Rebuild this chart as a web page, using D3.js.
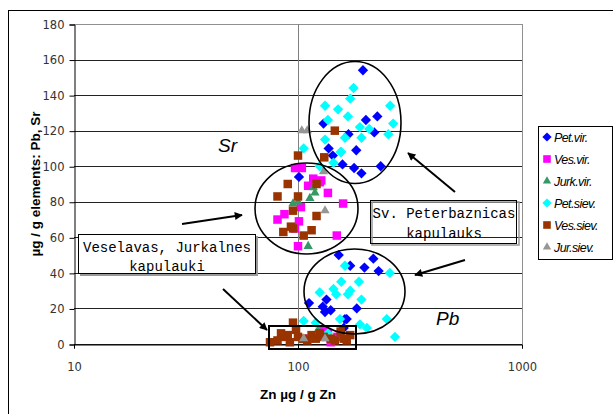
<!DOCTYPE html>
<html>
<head>
<meta charset="utf-8">
<script src="https://cdn.jsdelivr.net/npm/d3@7"></script>
<style>
body { margin: 0; background: #fff; }
svg { display: block; }
.tick text { font-family: "DejaVu Sans", Verdana, sans-serif; font-size: 11.5px; fill: #333; }
</style>
</head>
<body>
<svg id="chart" width="613" height="414"></svg>
<script>
// series data: [Zn, element]
var petVir = [[195,154],[226,128],[201,126],[219,119],[168,118],[130,124],[182,109],[137,110],[143,106],
    [158,101],[178,99],[192,96],[234,100],[101,94],
    [152,50],[171,44],[198,43],[217,48],[229,41],[112,23],[134,25],[140,19],[132,18],[183,20],
    [165,14],[162,14],[129,21],[160,9]];
var vesVir = [[97,99],[104,99],[117,93],[125,91],[127,92],[111,89],[136,85],[159,79],[103,77],[87,73],
    [81,70],[101,69],[97,65],[149,61],[100,55],
    [140,1],[136,6],[130,8],[112,3],[150,4]];
var jurkVir = [[119,85],[113,82],[117,88],[95,79],[100,80],[111,55],[123,8],[105,2]];
var petSiev = [[177,144],[171,138],[132,134],[151,132],[167,128],[258,134],[266,124],[136,126],[189,122],
    [208,121],[253,118],[192,116],[162,116],[132,115],[155,108],[106,110],[156,108],[144,102],[125,100],
    [162,44],[257,40],[156,35],[187,35],[171,30],[144,31],[125,29],[167,28],[148,28],[192,25],
    [154,14],[189,11],[203,9],[249,14],[271,4],[106,13],[120,12],[136,6]];
var vesSiev = [[146,120],[100,106],[131,105],[90,90],[121,90],[81,83],[100,83],[95,75],[121,72],[95,65],
    [86,63],[115,64],[106,61],[93,66],
    [95,12],[81,2],[87,4],[98,8],[115,5],[146,2],[171,5],[92,1],[105,3],[130,4],[160,3],[75,1],
    [84,6],[90,5],[100,4],[110,2],[120,3],[125,6],[155,7],[165,2],[140,3]];
var jurSiev = [[104,120],[110,120],[130,97],[132,75],[106,3],[132,3]];

var seriesNames = ["Pet.vir.","Ves.vir.","Jurk.vir.","Pet.siev.","Ves.siev.","Jur.siev."];
var seriesColors = ["#0000ff","#ff00ff","#339966","#00ffff","#993300","#969696"];
var seriesShapes = ["diamond","square","triangle","diamond","square","triangle"];
var seriesData = [petVir, vesVir, jurkVir, petSiev, vesSiev, jurSiev];

var xTicks = [10, 100, 1000];
var yTicks = [0,20,40,60,80,100,120,140,160,180];

var svg = d3.select("#chart");
var plotL = 74, plotR = 522, plotT = 24, plotB = 344;

var x = d3.scaleLog().domain([10,1000]).range([plotL,plotR]);
var y = d3.scaleLinear().domain([0,180]).range([plotB,plotT]);

// outer frame
svg.append("rect").attr("x",8.5).attr("y",10.5).attr("width",700).attr("height",500)
    .attr("fill","none").attr("stroke","#000");

// grid
svg.selectAll(".hgrid").data(yTicks).enter().append("line")
    .attr("x1",plotL).attr("x2",plotR)
    .attr("y1",function(d){return Math.round(y(d))+0.5})
    .attr("y2",function(d){return Math.round(y(d))+0.5})
    .attr("stroke",function(d){return d==180 ? "#909090" : "#222"});
svg.append("line").attr("x1",Math.round(x(100))+0.5).attr("x2",Math.round(x(100))+0.5)
    .attr("y1",plotT).attr("y2",plotB).attr("stroke","#808080");
svg.append("line").attr("x1",plotR+0.5).attr("x2",plotR+0.5)
    .attr("y1",plotT).attr("y2",plotB).attr("stroke","#909090");

// axes
var yAxis = svg.append("g").attr("transform","translate("+(plotL+0.5)+",0.5)")
    .call(d3.axisLeft(y).tickValues(yTicks).tickSize(5).tickPadding(5));
var xAxis = svg.append("g").attr("transform","translate(0,"+(plotB+0.5)+")")
    .call(d3.axisBottom(x).tickValues(xTicks).tickFormat(d3.format("d")).tickSize(4).tickPadding(14));
svg.selectAll(".domain").attr("stroke","#000");
svg.selectAll(".tick line").attr("stroke","#000");

svg.append("text").attr("x",298).attr("y",399).attr("text-anchor","middle")
    .style("font-family","Liberation Sans, Arial").style("font-size","13.5px").style("font-weight","bold")
    .text("Zn µg / g Zn");
svg.append("text").attr("transform","translate(40,184) rotate(-90)").attr("text-anchor","middle")
    .style("font-family","Liberation Sans, Arial").style("font-size","13.5px").style("font-weight","bold")
    .text("µg / g elements: Pb, Sr");

// markers
var symbolFor = function(shape, k){
    k = k || 1;
    if (shape=="diamond") return d3.symbol().type(d3.symbolDiamond2).size(68*k)();
    if (shape=="square") return d3.symbol().type(d3.symbolSquare2).size(92*k)();
    return d3.symbol().type(d3.symbolTriangle2).size(62*k)();
}

seriesData.forEach(function(data,i){
    svg.append("g").selectAll("path").data(data).enter().append("path")
        .attr("d",symbolFor(seriesShapes[i]))
        .attr("transform",function(d){return "translate("+x(d[0])+","+y(d[1])+")"})
        .attr("fill",seriesColors[i]);
});

// annotations
var ann = svg.append("g").attr("fill","none").attr("stroke","#000");
ann.append("ellipse").attr("cx",355).attr("cy",122.5).attr("rx",46).attr("ry",61).attr("stroke-width",1.6);
ann.append("ellipse").attr("cx",306.5).attr("cy",208.5).attr("rx",51.5).attr("ry",45.5).attr("stroke-width",1.6);
ann.append("ellipse").attr("cx",354.5).attr("cy",291.5).attr("rx",50.5).attr("ry",42.5).attr("stroke-width",1.6);
ann.append("rect").attr("x",269).attr("y",326).attr("width",87).attr("height",23).attr("stroke-width",2);

svg.append("defs").append("marker").attr("id","arr").attr("viewBox","0 0 10 10")
    .attr("refX",9).attr("refY",5).attr("markerWidth",10).attr("markerHeight",8)
    .attr("markerUnits","userSpaceOnUse").attr("orient","auto")
    .append("path").attr("d","M0,0L10,5L0,10Z").attr("fill","#000");
var arrows = [[455,192,408,153],[182,224,242,215],[465,260,415,275],[223,289,267,330]];
svg.selectAll(".arrow").data(arrows).enter().append("line")
    .attr("x1",function(d){return d[0]}).attr("y1",function(d){return d[1]})
    .attr("x2",function(d){return d[2]}).attr("y2",function(d){return d[3]})
    .attr("stroke","#000").attr("stroke-width",2).attr("marker-end","url(#arr)");

// text boxes
svg.append("rect").attr("x",80).attr("y",236).attr("width",178).attr("height",40).attr("fill","#999");
svg.append("rect").attr("x",78.5).attr("y",234.5).attr("width",177).attr("height",39)
    .attr("fill","#fff").attr("stroke","#000");
svg.append("rect").attr("x",372).attr("y",202).attr("width",147).attr("height",43)
    .attr("fill","none").attr("stroke","#999").attr("stroke-width",1.5);
svg.append("rect").attr("x",370.5).attr("y",200.5).attr("width",146).attr("height",43)
    .attr("fill","none").attr("stroke","#000");

var mono = function(tx,ty,t){
    svg.append("text").attr("x",tx).attr("y",ty).attr("text-anchor","middle")
        .style("font-family","Liberation Mono, Courier New, monospace").style("font-size","14px")
        .text(t);
}
mono(167,252,"Veselavas, Jurkalnes");
mono(167,271,"kapulauki");
mono(444,218,"Sv. Peterbaznicas");
mono(444,238,"kapulauks");

svg.append("text").attr("x",218).attr("y",152).style("font-family","Liberation Sans, Arial")
    .style("font-size","19px").style("font-style","italic").text("Sr");
svg.append("text").attr("x",436).attr("y",325).style("font-family","Liberation Sans, Arial")
    .style("font-size","19px").style("font-style","italic").text("Pb");

// legend
var lg = svg.append("g");
lg.append("rect").attr("x",538.5).attr("y",126.5).attr("width",74).attr("height",133)
    .attr("fill","#fff").attr("stroke","#000");
seriesNames.forEach(function(name,i){
    var ly = 137 + i*22;
    lg.append("path").attr("d",symbolFor(seriesShapes[i],0.8))
        .attr("transform","translate(547,"+ly+")").attr("fill",seriesColors[i]);
    lg.append("text").attr("x",554).attr("y",ly+4.5)
        .style("font-family","Liberation Sans, Arial").style("font-size","12.5px")
        .style("font-style","italic").style("letter-spacing","-0.6px").text(name);
});
</script>
</body>
</html>
